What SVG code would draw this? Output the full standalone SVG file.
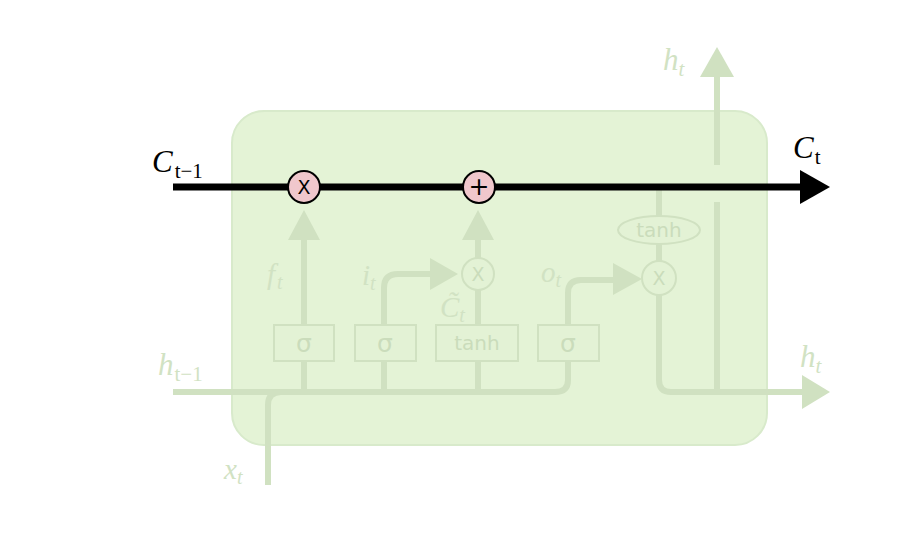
<svg xmlns="http://www.w3.org/2000/svg" width="914" height="536" viewBox="0 0 914 536">
<style>
.f{stroke:#d0e1c1;stroke-width:6;fill:none}
.fa{fill:#d0e1c1}
.gate{fill:#e3f2d5;stroke:#d0e1c1;stroke-width:2}
.op{fill:#e3f2d5;stroke:#d0e1c1;stroke-width:2}
.gt{font-family:"DejaVu Sans",sans-serif;fill:#cadcbb;text-anchor:middle}
.lab{font-family:"Liberation Serif",serif;font-style:italic;fill:#d1e2c3}
.sub{font-style:normal}
.blk{font-family:"Liberation Serif",serif;font-style:italic;fill:#000}
.pink{fill:#f0c7cc;stroke:#000;stroke-width:2}
.pt{font-family:"DejaVu Sans",sans-serif;fill:#000;text-anchor:middle}
</style>
<rect id="cell" x="232" y="111" width="535" height="334" rx="32" fill="#e4f3d6" stroke="#d8eacb" stroke-width="2"/>
<g id="connectors">
  <path class="f" d="M173,392 H555 Q568,392 568,380 V361"/>
  <path class="f" d="M268,485 V405 Q268,392 281,392"/>
  <path class="f" d="M304,392 V361 M304,325 V238"/>
  <polygon class="fa" points="288,240 320,240 304,210"/>
  <path class="f" d="M384,392 V361 M384,325 V288 Q384,274 398,274 H432"/>
  <polygon class="fa" points="430,258 458,274 430,290"/>
  <path class="f" d="M478,392 V361 M478,325 V290 M478,258 V238"/>
  <polygon class="fa" points="462,240 494,240 478,210"/>
  <path class="f" d="M568,325 V293 Q568,280 581,280 H615"/>
  <polygon class="fa" points="613,263 642,279 613,295"/>
  <path class="f" d="M659,295 V380 Q659,392 671,392 H804"/>
  <polygon class="fa" points="802,375 830,392 802,409"/>
  <path class="f" d="M717,392 V202 M717,165 V75"/>
  <polygon class="fa" points="700,77 734,77 717,47"/>
  <path class="f" d="M659,187 V216 M659,244 V262"/>
  <path d="M173,187 H804" stroke="#000" stroke-width="7" fill="none"/>
  <polygon points="800,170 830,187 800,204" fill="#000"/>
</g>
<g id="forget-gate">
  <rect class="gate" x="274" y="325" width="60" height="36"/>
  <text class="gt" x="304" y="352" font-size="25">σ</text>
</g>
<g id="input-gate">
  <rect class="gate" x="355" y="325" width="61" height="36"/>
  <text class="gt" x="385" y="352" font-size="25">σ</text>
</g>
<g id="candidate-tanh">
  <rect class="gate" x="436" y="325" width="82" height="36"/>
  <text class="gt" x="477" y="350" font-size="20">tanh</text>
</g>
<g id="output-gate">
  <rect class="gate" x="538" y="325" width="61" height="36"/>
  <text class="gt" x="568" y="352" font-size="25">σ</text>
</g>
<g id="input-mult">
  <circle class="op" cx="478" cy="274" r="16"/>
  <text class="gt" x="478" y="281" font-size="19">X</text>
</g>
<g id="output-mult">
  <circle class="op" cx="659" cy="278" r="17"/>
  <text class="gt" x="659" y="285" font-size="19">X</text>
</g>
<g id="output-tanh">
  <ellipse class="op" cx="659" cy="230" rx="41" ry="14"/>
  <text class="gt" x="659" y="237" font-size="20">tanh</text>
</g>
<g id="forget-mult">
  <circle class="pink" cx="304" cy="187" r="16"/>
  <text class="pt" x="304" y="194" font-size="19">X</text>
</g>
<g id="add">
  <circle class="pink" cx="479" cy="187" r="16"/>
  <text class="pt" x="479" y="195" font-size="25">+</text>
</g>
<g id="labels">
  <text class="blk" x="152" y="172" font-size="31">C<tspan class="sub" font-size="21" dx="2" dy="6">t−1</tspan></text>
  <text class="blk" x="793" y="158" font-size="31">C<tspan class="sub" font-size="21" dx="1" dy="6">t</tspan></text>
  <text class="lab" x="663" y="70" font-size="31">h<tspan font-size="21" dy="6">t</tspan></text>
  <text class="lab" x="800" y="367" font-size="31">h<tspan font-size="21" dy="6">t</tspan></text>
  <text class="lab" x="158" y="375" font-size="31">h<tspan class="sub" font-size="21" dx="1" dy="6">t−1</tspan></text>
  <text class="lab" x="267" y="284" font-size="29">f<tspan font-size="20" dx="2" dy="5">t</tspan></text>
  <text class="lab" x="362" y="285" font-size="29">i<tspan font-size="20" dy="5">t</tspan></text>
  <text class="lab" x="440" y="317" font-size="29">C̃<tspan font-size="20" dy="5">t</tspan></text>
  <text class="lab" x="541" y="282" font-size="29">o<tspan font-size="20" dy="5">t</tspan></text>
  <text class="lab" x="224" y="479" font-size="29">x<tspan font-size="20" dy="5">t</tspan></text>
</g>
</svg>
